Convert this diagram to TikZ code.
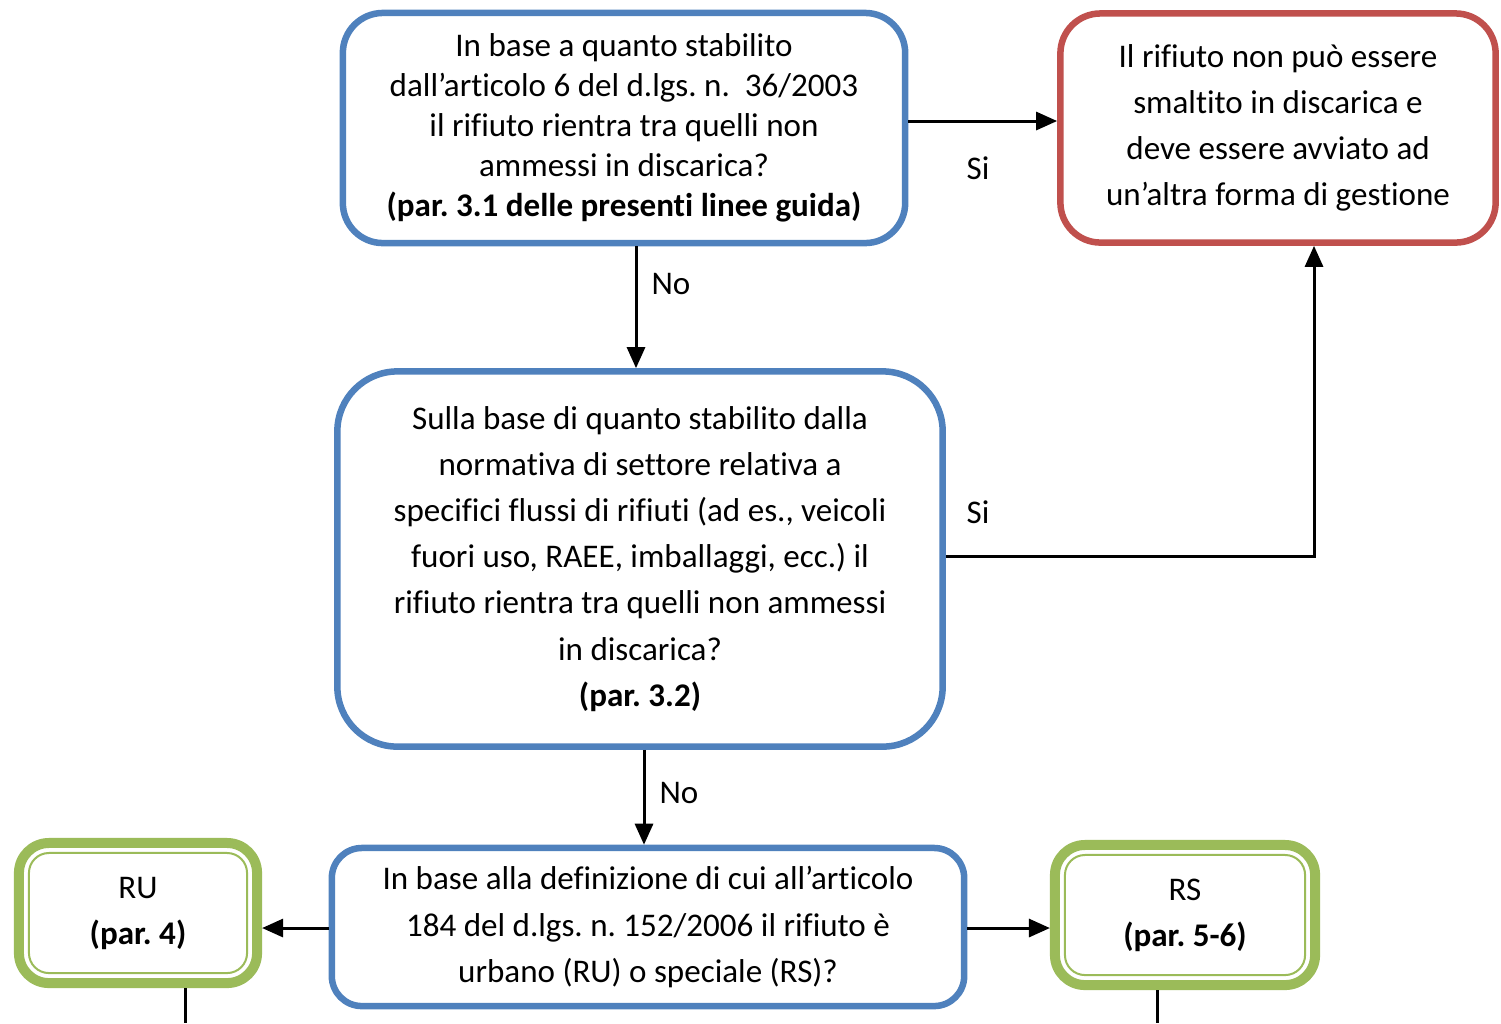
\documentclass[tikz,border=0pt]{standalone}
\usepackage{fontspec}
\setmainfont{Carlito}[Ligatures=NoCommon]
\usepackage{tikz}
\usetikzlibrary{arrows.meta}
\definecolor{qblue}{RGB}{79,129,189}
\definecolor{qred}{RGB}{192,80,77}
\definecolor{qgreen}{RGB}{155,187,89}
\frenchspacing

\begin{document}
\begin{tikzpicture}[x=0.01cm, y=-0.01cm,
  every node/.style={font=\fontsize{9.4}{13.1}\selectfont, align=center, inner sep=0pt},
  qbox/.style={draw=qblue, line width=0.065cm, rounded corners=0.4cm, fill=white},
  redbox/.style={draw=qred, line width=0.065cm, rounded corners=0.4cm, fill=white},
  greenbox/.style={draw=qgreen, line width=0.1cm, rounded corners=0.3cm, fill=white},
  arr/.style={line width=0.03cm, -{Triangle[length=0.21cm,width=0.18cm]}}]
\useasboundingbox (0,0) rectangle (1501,1023);
% Nodes
\node[qbox, minimum width=5.62cm, minimum height=2.30cm,
  font=\fontsize{9.4}{11.4}\selectfont] (q1) at (624,128)
  {In base a quanto stabilito\\dall’articolo 6 del d.lgs. n.\ \ 36/2003\\il rifiuto rientra tra quelli non\\ammessi in discarica?\\\textbf{(par. 3.1 delle presenti linee guida)}};
\node[redbox, minimum width=4.35cm, minimum height=2.29cm] (esc) at (1278,128)
  {Il rifiuto non può essere\\smaltito in discarica e\\deve essere avviato ad\\un’altra forma di gestione};
\node[qbox, rounded corners=0.6cm, minimum width=6.05cm, minimum height=3.75cm] (q2) at (640,559)
  {Sulla base di quanto stabilito dalla\\normativa di settore relativa a\\specifici flussi di rifiuti (ad es., veicoli\\fuori uso, RAEE, imballaggi, ecc.) il\\rifiuto rientra tra quelli non ammessi\\in discarica?\\\textbf{(par. 3.2)}};
\node[qbox, rounded corners=0.3cm, minimum width=6.32cm, minimum height=1.58cm] (q3) at (648,927)
  {In base alla definizione di cui all’articolo\\184 del d.lgs. n. 152/2006 il rifiuto è\\urbano (RU) o speciale (RS)?};
\node[greenbox, minimum width=2.38cm, minimum height=1.40cm] (ru) at (138,913)
  {RU\\\textbf{(par. 4)}};
\node[greenbox, minimum width=2.60cm, minimum height=1.40cm] (rs) at (1185,915)
  {RS\\\textbf{(par. 5-6)}};
\draw[qgreen, line width=0.02cm, rounded corners=0.2cm]
  ([shift={(0.15cm,0.15cm)}]ru.south west) rectangle ([shift={(-0.15cm,-0.15cm)}]ru.north east);
\draw[qgreen, line width=0.02cm, rounded corners=0.2cm]
  ([shift={(0.15cm,0.15cm)}]rs.south west) rectangle ([shift={(-0.15cm,-0.15cm)}]rs.north east);
% Labels
\node (si1) at (978,168) {Si};
\node (no1) at (671,284) {No};
\node (si2) at (978,512) {Si};
\node (no2) at (679,793) {No};
\coordinate (ruend) at (185,1023);
\coordinate (rsend) at (1157,1023);
% Edges
\draw[arr] (q1.east |- 0,121) -- (esc.west |- 0,121);
\draw[arr] (q1.south -| 636,0) -- (q2.north -| 636,0);
\draw[arr] (q2.east |- 0,556) -| (esc.south -| 1314,0);
\draw[arr] (q2.south -| 644,0) -- (q3.north -| 644,0);
\draw[arr] (q3.west |- 0,928) -- (ru.east |- 0,928);
\draw[arr] (q3.east |- 0,928) -- (rs.west |- 0,928);
\draw[line width=0.03cm] (ru.south -| ruend) -- (ruend);
\draw[line width=0.03cm] (rs.south -| rsend) -- (rsend);
\end{tikzpicture}
\end{document}
